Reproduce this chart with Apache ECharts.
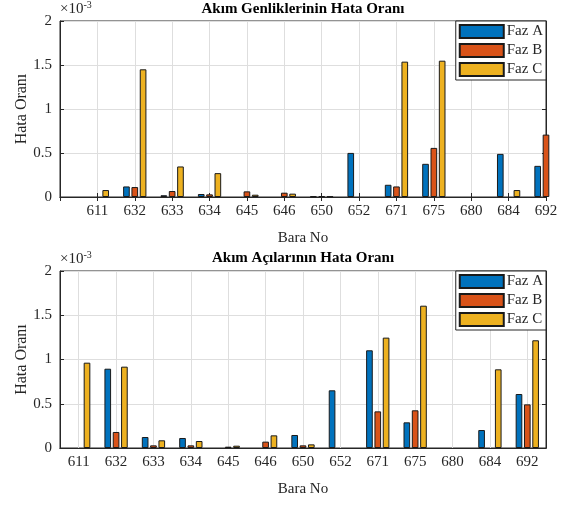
<!DOCTYPE html>
<html>
<head>
<meta charset="utf-8">
<script src="https://cdn.jsdelivr.net/npm/echarts@6/dist/echarts.min.js"></script>
<style>
  html, body { margin: 0; padding: 0; background: #fff; }
  #chart { width: 564px; height: 506px; }
</style>
</head>
<body>
<div id="chart"></div>
<script>
// bara numaraları ve fazlar
const buses = ['611', '632', '633', '634', '645', '646', '650', '652', '671', '675', '680', '684', '692'];
const phases = ['Faz A', 'Faz B', 'Faz C'];
const colors = ['#0072BD', '#D95319', '#EDB120'];
const yTicks = [0, 0.5, 1, 1.5, 2];

// Akım genliklerinin hata oranı (x1e-3)
const magA = [0, 0.12, 0.02, 0.034, 0, 0, 0.008, 0.501, 0.139, 0.377, 0, 0.49, 0.354];
const magB = [0, 0.113, 0.068, 0.03, 0.064, 0.049, 0.01, 0, 0.12, 0.558, 0, 0, 0.709];
const magC = [0.079, 1.451, 0.347, 0.271, 0.026, 0.038, 0.006, 0, 1.538, 1.549, 0, 0.079, null];

// Akım açılarının hata oranı (x1e-3)
const angA = [0, 0.896, 0.124, 0.113, 0, 0, 0.147, 0.652, 1.104, 0.29, 0, 0.203, 0.61];
const angB = [0, 0.181, 0.03, 0.03, 0.015, 0.072, 0.03, 0, 0.414, 0.426, 0, 0, 0.493];
const angC = [0.964, 0.919, 0.087, 0.079, 0.026, 0.143, 0.041, 0, 1.247, 1.608, 0, 0.889, 1.217];

const FONT = 'Liberation Serif';
const INK = '#262626';
const GRIDC = '#dedede';

// üst grafik x ekseni 0'dan başlıyor (MATLAB xlim [0 13])
const topCats = [''].concat(buses);
const noZero = arr => arr.map(v => (v === 0 ? null : v)); // sıfır bar çizilmesin
const pad = arr => [null].concat(arr);

const grids = [
  { left: 60, right: 18, top: 21, height: 176, show: true, borderColor: INK, borderWidth: 1 },
  { left: 60, right: 18, top: 271, height: 177, show: true, borderColor: INK, borderWidth: 1 }
];

function xMain(gi, data, bg) {
  return {
    type: 'category', gridIndex: gi, data: data, boundaryGap: bg,
    name: 'Bara No', nameLocation: 'middle', nameGap: 34,
    nameTextStyle: { fontFamily: FONT, fontSize: 15, color: INK },
    axisLine: { lineStyle: { color: INK } },
    axisTick: { inside: true, length: 4, alignWithLabel: true, lineStyle: { color: INK } },
    axisLabel: { fontFamily: FONT, fontSize: 15, color: INK, margin: 7, interval: 0 },
    splitLine: { show: true, alignWithLabel: true, lineStyle: { color: GRIDC } }
  };
}
function xTop(gi, data, bg) {
  return {
    type: 'category', gridIndex: gi, data: data, boundaryGap: bg, position: 'top',
    axisLine: { lineStyle: { color: INK } },
    axisTick: { inside: true, length: 4, alignWithLabel: true, lineStyle: { color: INK } },
    axisLabel: { show: false }, splitLine: { show: false }
  };
}
function yMain(gi) {
  return {
    type: 'value', gridIndex: gi, min: yTicks[0], max: yTicks[yTicks.length - 1], interval: 0.5,
    name: '{a|×10}{b|-3}', nameLocation: 'end', nameGap: 3,
    nameTextStyle: {
      align: 'left', verticalAlign: 'bottom',
      rich: {
        a: { fontFamily: FONT, fontSize: 15, color: INK },
        b: { fontFamily: FONT, fontSize: 10, color: INK, padding: [0, 0, 8, 0] }
      }
    },
    axisLine: { show: true, lineStyle: { color: INK } },
    axisTick: { show: true, inside: true, length: 4, lineStyle: { color: INK } },
    axisLabel: { fontFamily: FONT, fontSize: 15, color: INK, margin: 8 },
    splitLine: { show: true, lineStyle: { color: GRIDC } }
  };
}
function yRight(gi) {
  return {
    type: 'value', gridIndex: gi, min: 0, max: 2, interval: 0.5, position: 'right',
    axisLine: { show: true, lineStyle: { color: INK } },
    axisTick: { show: true, inside: true, length: 4, lineStyle: { color: INK } },
    axisLabel: { show: false }, splitLine: { show: false }
  };
}

const yAxes = [yMain(0), yRight(0), yMain(1), yRight(1)];
// y ekseni başlıkları (Hata Oranı) ayrı bir eksen üzerinden
const yTitle = gi => ({
  type: 'value', gridIndex: gi, min: 0, max: 2, position: 'left',
  name: 'Hata Oranı', nameLocation: 'middle', nameGap: 30,
  nameTextStyle: { fontFamily: FONT, fontSize: 16, color: INK },
  axisLine: { show: false }, axisTick: { show: false }, axisLabel: { show: false }, splitLine: { show: false }
});
yAxes.push(yTitle(0), yTitle(1));

function bars(xi, yi, arrs, padFn) {
  return arrs.map((a, i) => ({
    name: phases[i], type: 'bar', xAxisIndex: xi, yAxisIndex: yi,
    data: padFn ? padFn(noZero(a)) : noZero(a),
    barWidth: '17.8%', barGap: '25%',
    itemStyle: { color: colors[i], borderColor: '#1a1a1a', borderWidth: 1 },
    clip: true, animation: false
  }));
}

function legend(top) {
  return {
    orient: 'vertical', right: 18, top: top, data: phases,
    icon: 'rect', itemWidth: 44, itemHeight: 13, itemGap: 4,
    padding: [3, 3, 3, 3], borderColor: INK, borderWidth: 1, borderRadius: 0,
    backgroundColor: '#fff',
    textStyle: { fontFamily: FONT, fontSize: 15, color: INK, padding: [0, 0, 0, -2] }
  };
}

const chart = echarts.init(document.getElementById('chart'), null, { renderer: 'canvas' });
chart.setOption({
  animation: false,
  backgroundColor: '#fff',
  title: [
    { text: 'Akım Genliklerinin Hata Oranı', left: 303, top: 2, textAlign: 'center', padding: 0,
      textStyle: { fontFamily: FONT, fontSize: 15, fontWeight: 'bold', color: '#000' } },
    { text: 'Akım Açılarının Hata Oranı', left: 303, top: 251, textAlign: 'center', padding: 0,
      textStyle: { fontFamily: FONT, fontSize: 15, fontWeight: 'bold', color: '#000' } }
  ],
  legend: [legend(21), legend(271)],
  grid: grids,
  xAxis: [xMain(0, topCats, false), xTop(0, topCats, false), xMain(1, buses, true), xTop(1, buses, true)],
  yAxis: yAxes,
  series: []
    .concat(bars(0, 0, [magA, magB, magC], pad))
    .concat(bars(2, 2, [angA, angB, angC]))
});
</script>
</body>
</html>
